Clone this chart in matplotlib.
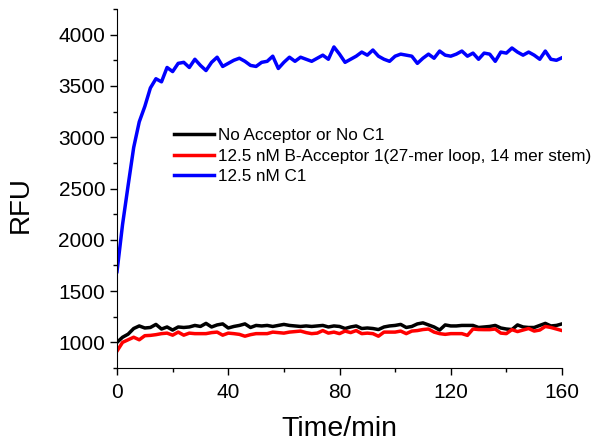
import matplotlib
matplotlib.use("Agg")
import matplotlib.pyplot as plt
from matplotlib.ticker import MultipleLocator

plt.rcParams["font.family"] = ["Liberation Sans", "DejaVu Sans"]

# time axis, one read every 2 min
time_min = list(range(0, 161, 2))

# no acceptor / no C1 (black)
rfu_none = [1000, 1050, 1080, 1135, 1160, 1140, 1145, 1175, 1130, 1150,
            1120, 1150, 1145, 1150, 1165, 1155, 1185, 1150, 1170, 1180,
            1140, 1155, 1165, 1180, 1145, 1165, 1160, 1165, 1155, 1165,
            1175, 1165, 1160, 1155, 1160, 1155, 1160, 1165, 1150, 1160,
            1155, 1135, 1150, 1160, 1135, 1140, 1135, 1125, 1150, 1160,
            1165, 1175, 1145, 1155, 1180, 1190, 1170, 1150, 1120, 1170,
            1160, 1160, 1165, 1165, 1165, 1145, 1150, 1155, 1165, 1140,
            1130, 1125, 1170, 1150, 1145, 1145, 1165, 1185, 1160, 1165,
            1180]

# 12.5 nM B-Acceptor 1 (red)
rfu_acceptor = [915, 1000, 1025, 1050, 1025, 1065, 1068, 1075, 1085, 1090,
                1070, 1100, 1070, 1090, 1085, 1085, 1085, 1095, 1100, 1070,
                1090, 1085, 1078, 1060, 1075, 1085, 1085, 1085, 1100, 1095,
                1090, 1100, 1105, 1110, 1095, 1085, 1090, 1115, 1090, 1100,
                1085, 1110, 1095, 1115, 1085, 1090, 1085, 1060, 1100, 1100,
                1100, 1110, 1085, 1110, 1115, 1125, 1130, 1100, 1085, 1078,
                1085, 1085, 1085, 1068, 1130, 1125, 1124, 1124, 1130, 1090,
                1085, 1124, 1105, 1120, 1135, 1110, 1120, 1155, 1145, 1130,
                1115]

# 12.5 nM C1 (blue)
rfu_c1 = [1690, 2150, 2530, 2900, 3150, 3300, 3480, 3570, 3540, 3680,
          3640, 3720, 3730, 3680, 3760, 3700, 3650, 3730, 3780, 3690,
          3720, 3750, 3770, 3740, 3700, 3690, 3730, 3740, 3790, 3670,
          3730, 3780, 3740, 3780, 3760, 3740, 3770, 3800, 3760, 3880,
          3810, 3730, 3760, 3790, 3830, 3800, 3850, 3790, 3760, 3740,
          3790, 3810, 3800, 3790, 3720, 3770, 3810, 3770, 3840, 3800,
          3790, 3810, 3840, 3790, 3820, 3760, 3820, 3810, 3740, 3830,
          3820, 3870, 3830, 3800, 3830, 3800, 3760, 3840, 3760, 3750,
          3775]

labels = ["No Acceptor or No C1",
          "12.5 nM B-Acceptor 1(27-mer loop, 14 mer stem)",
          "12.5 nM C1"]

fig = plt.figure(figsize=(6.01, 4.47), dpi=100)
ax = fig.add_axes([117 / 601, 1 - 368 / 447, 445 / 601, 359 / 447])

ax.plot(time_min, rfu_none, color="black", lw=2.5, label=labels[0])
ax.plot(time_min, rfu_acceptor, color="red", lw=2.5, label=labels[1])
ax.plot(time_min, rfu_c1, color="blue", lw=2.5, label=labels[2])

ax.set_xlim(0, 160)
ax.set_ylim(750, 4250)
ax.xaxis.set_major_locator(MultipleLocator(40))
ax.xaxis.set_minor_locator(MultipleLocator(20))
ax.yaxis.set_major_locator(MultipleLocator(500))
ax.yaxis.set_minor_locator(MultipleLocator(250))

ax.spines["top"].set_visible(False)
ax.spines["right"].set_visible(False)
ax.tick_params(which="major", length=5, width=1, labelsize=15)
ax.tick_params(which="minor", length=3, width=1)
ax.tick_params(axis="x", which="major", pad=6)

ax.set_xlabel("Time/min", fontsize=20.5)
ax.set_ylabel("RFU", fontsize=20)
# put the axis titles where the original has them
ax.xaxis.set_label_coords(0.5, -0.135)
ax.yaxis.set_label_coords(-0.188, 0.455)

# legend sits free in the middle, no frame
fig.legend(loc="upper left", bbox_to_anchor=(174 / 601, 1 - 128 / 447),
           frameon=False, fontsize=12.3, handlelength=2.35, handletextpad=0.25,
           labelspacing=0.33, borderpad=0, borderaxespad=0)

fig.savefig("out.png", dpi=100)
